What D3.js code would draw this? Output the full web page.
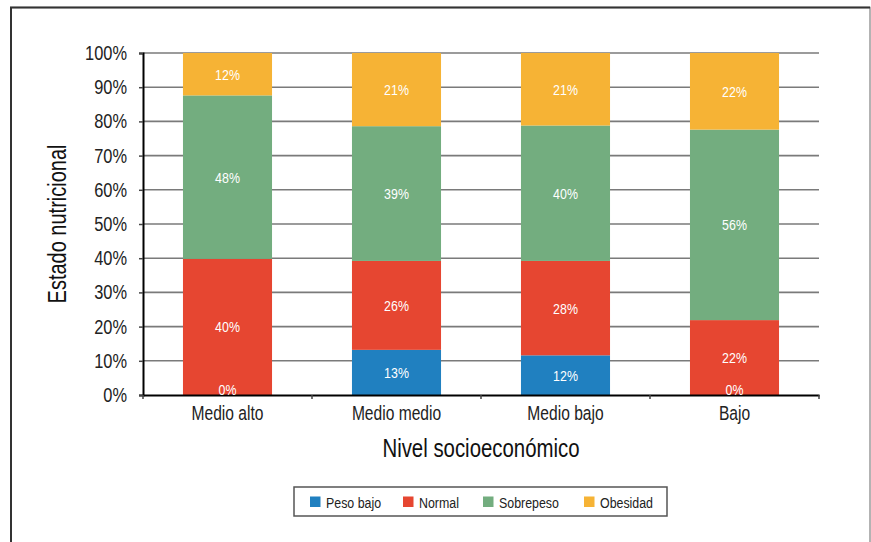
<!DOCTYPE html>
<html>
<head>
<meta charset="utf-8">
<script src="https://cdn.jsdelivr.net/npm/d3@7"></script>
<style>
  body { margin: 0; background: #fff; }
  svg { display: block; font-family: 'Liberation Sans', Arial, sans-serif; }
</style>
</head>
<body>
<div id="chart"></div>
<script>
// The data
var categories = ['Medio alto', 'Medio medio', 'Medio bajo', 'Bajo'];
var series = ['Peso bajo', 'Normal', 'Sobrepeso', 'Obesidad'];
var pesoBajo  = [0, 13.2, 11.6, 0];
var normal    = [39.8, 26.0, 27.6, 21.9];
var sobrepeso = [47.8, 39.4, 39.6, 55.7];
var obesidad  = [12.4, 21.4, 21.2, 22.4];
var yTicks = [0, 10, 20, 30, 40, 50, 60, 70, 80, 90, 100];
var colors = ['#2080c0', '#e64631', '#73ad7f', '#f6b335'];

// rows for d3.stack
var rows = categories.map(function(c, i) {
  return { cat: c, 'Peso bajo': pesoBajo[i], 'Normal': normal[i], 'Sobrepeso': sobrepeso[i], 'Obesidad': obesidad[i] };
});

var W = 871, H = 542;
var margin = { top: 53, right: 52, bottom: 147, left: 143 },
    width = W - margin.left - margin.right,
    height = H - margin.top - margin.bottom;

// squeeze text horizontally to get a narrow face
var SX = 0.8;
function narrow(sel, extra) {
  sel.each(function() {
    var t = d3.select(this);
    var tx = +t.attr('x') || 0, ty = +t.attr('y') || 0;
    t.attr('x', 0).attr('y', 0)
      .attr('transform', 'translate(' + tx + ',' + ty + ')' + (extra || '') + ' scale(' + SX + ',1)');
  });
}

var svg = d3.select('#chart').append('svg')
    .attr('width', W)
    .attr('height', H);

// outer frame
svg.append('rect')
    .attr('x', 11).attr('y', 7.5)
    .attr('width', 859).attr('height', 545)
    .style('fill', 'none')
    .style('stroke', '#9a9a9a')
    .style('stroke-width', 1.5);
svg.append('path')
    .attr('d', 'M11,560V7.5H870')
    .style('fill', 'none')
    .style('stroke', '#333')
    .style('stroke-width', 2);

var g = svg.append('g')
    .attr('transform', 'translate(' + margin.left + ',' + margin.top + ')');

var x = d3.scaleBand().domain(categories).range([0, width]).paddingInner(0.473).paddingOuter(0.2365);
var y = d3.scaleLinear().domain([0, 100]).range([height, 0]);
var color = d3.scaleOrdinal().domain(series).range(colors);

// gridlines
g.selectAll('.grid')
    .data(yTicks.filter(function(d) { return d > 0; }))
    .enter()
  .append('line')
    .attr('x1', 0).attr('x2', width)
    .attr('y1', function(d) { return y(d); })
    .attr('y2', function(d) { return y(d); })
    .style('stroke', '#7a7a7a')
    .style('stroke-width', 1.6);

var stacked = d3.stack().keys(series)(rows);

var layer = g.selectAll('.layer')
    .data(stacked)
    .enter()
  .append('g')
    .style('fill', function(d) { return color(d.key); });

layer.selectAll('rect')
    .data(function(d) { return d; })
    .enter()
  .append('rect')
    .attr('x', function(d) { return x(d.data.cat); })
    .attr('y', function(d) { return y(d[1]); })
    .attr('width', x.bandwidth())
    .attr('height', function(d) { return Math.max(y(d[0]) - y(d[1]), 0); });

// y axis
var yAxis = g.append('g')
    .call(d3.axisLeft(y).tickValues(yTicks).tickSize(4).tickPadding(12)
      .tickFormat(function(d) { return d + '%'; }));
yAxis.select('.domain').style('stroke', '#000').style('stroke-width', 2);
yAxis.selectAll('.tick line').style('stroke', '#444').style('stroke-width', 1.5);
yAxis.selectAll('text').style('font-size', '20.5px').style('fill', '#222').call(narrow);

// x axis
var xAxis = g.append('g')
    .attr('transform', 'translate(0,' + height + ')')
    .call(d3.axisBottom(x).tickSize(0).tickPadding(11));
xAxis.select('.domain').style('stroke', '#000').style('stroke-width', 2);
xAxis.selectAll('text').style('font-size', '19.5px').style('fill', '#222').call(narrow);

// x ticks at category boundaries
g.selectAll('.xtick')
    .data(d3.range(categories.length + 1))
    .enter()
  .append('line')
    .attr('x1', function(i) { return i * width / categories.length; })
    .attr('x2', function(i) { return i * width / categories.length; })
    .attr('y1', height).attr('y2', height + 4)
    .style('stroke', '#444')
    .style('stroke-width', 1.5);

// value labels (after all bars so zero labels stay visible)
var labels = g.append('g');
stacked.forEach(function(s) {
  labels.selectAll(null)
      .data(s)
      .enter()
    .append('text')
      .attr('x', function(d) { return x(d.data.cat) + x.bandwidth() / 2; })
      .attr('y', function(d) {
        var v = d[1] - d[0];
        return v === 0 ? y(d[0]) - 6 : (y(d[0]) + y(d[1])) / 2;
      })
      .attr('text-anchor', 'middle')
      .attr('dominant-baseline', 'central')
      .style('fill', 'white')
      .style('font-size', '15.5px')
      .text(function(d) { return Math.round(d[1] - d[0]) + '%'; })
      .call(narrow);
});

// axis titles
svg.append('text')
    .attr('x', margin.left + width / 2)
    .attr('y', 457)
    .attr('text-anchor', 'middle')
    .style('font-size', '25.5px')
    .style('fill', '#111')
    .text('Nivel socioeconómico')
    .call(narrow);

svg.append('text')
    .attr('x', 66).attr('y', 224)
    .attr('text-anchor', 'middle')
    .style('font-size', '25px')
    .style('fill', '#111')
    .text('Estado nutricional')
    .call(narrow, ' rotate(-90)');

// legend
var legend = svg.append('g');
legend.append('rect')
    .attr('x', 294).attr('y', 487)
    .attr('width', 373).attr('height', 29)
    .style('fill', 'white')
    .style('stroke', '#555')
    .style('stroke-width', 1.5);

var legendX = [310, 403, 483, 584];
var item = legend.selectAll('.item')
    .data(series)
    .enter()
  .append('g')
    .attr('transform', function(d, i) { return 'translate(' + legendX[i] + ',496.5)'; });
item.append('rect')
    .attr('width', 10.5).attr('height', 10.5)
    .style('fill', function(d) { return color(d); });
item.append('text')
    .attr('x', 16).attr('y', 5.5)
    .attr('dominant-baseline', 'central')
    .style('font-size', '15.5px')
    .style('fill', '#222')
    .text(function(d) { return d; })
    .call(narrow);
</script>
</body>
</html>
